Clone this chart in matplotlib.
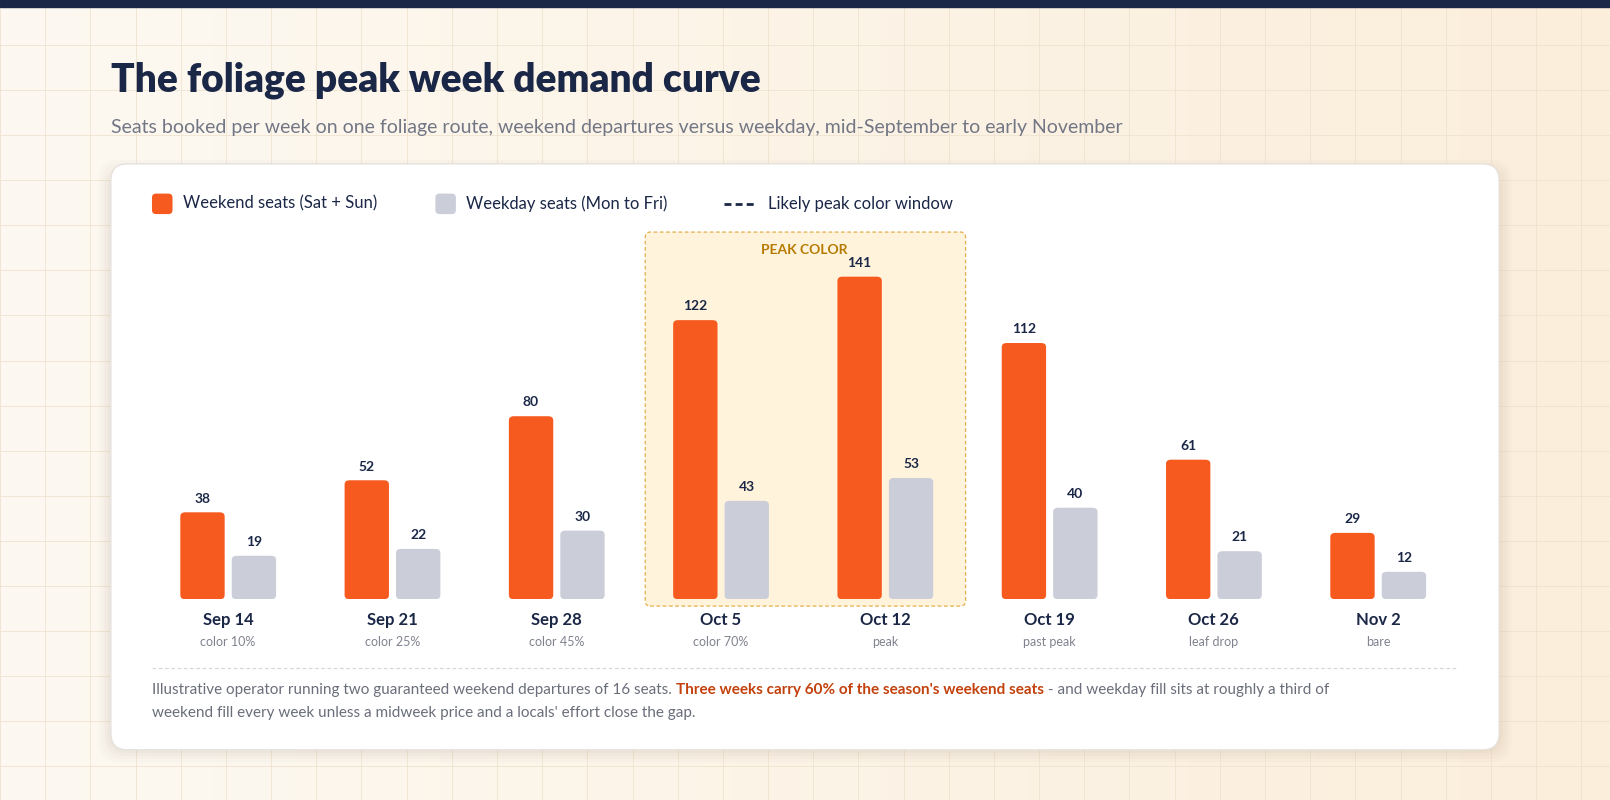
import matplotlib.pyplot as plt
import matplotlib.patches as mpatches
import numpy as np

weeks = ['Sep 14', 'Sep 21', 'Sep 28', 'Oct 5', 'Oct 12', 'Oct 19', 'Oct 26', 'Nov 2']
stages = ['color 10%', 'color 25%', 'color 45%', 'color 70%', 'peak', 'past peak', 'leaf drop', 'bare']
weekend = [38, 52, 80, 122, 141, 112, 61, 29]
weekday = [19, 22, 30, 43, 53, 40, 21, 12]

W, H = 1568, 781
ORANGE = '#f75a1e'
GRAY = '#cbced9'
NAVY = '#1b2747'
plt.rcParams['font.family'] = ['Lato', 'DejaVu Sans']

fig = plt.figure(figsize=(16.1, 8.0), dpi=100)

def fx(px):
    return px / W

def fy(py):
    return 1 - py / H

# background with faint grid
bg = fig.add_axes([0, 0, 1, 1])
bg.set_xlim(0, W)
bg.set_ylim(H, 0)
bg.axis('off')
grad = np.linspace(0, 1, 256).reshape(1, -1)
bg.imshow(grad, extent=[0, W, H, 0], aspect='auto', cmap=plt.matplotlib.colors.LinearSegmentedColormap.from_list('c', ['#fdf9f2', '#fbeedb']), zorder=0)
for gx in np.arange(0, W, 44):
    bg.axvline(gx, color='#efe3cf', lw=0.6, zorder=1)
for gy in np.arange(0, H, 44):
    bg.axhline(gy, color='#efe3cf', lw=0.6, zorder=1)
bg.add_patch(mpatches.Rectangle((0, 0), W, 7, color=NAVY, zorder=2))

# card with soft shadow
for i, a in enumerate([0.025, 0.025, 0.03, 0.035]):
    s = 12 - i * 3
    bg.add_patch(mpatches.FancyBboxPatch((108 - s, 168 - s), 1352 + 2 * s, 564 + 2 * s,
                 boxstyle='round,pad=0,rounding_size=20', fc='#7a6a50', ec='none', alpha=a, zorder=3))
bg.add_patch(mpatches.FancyBboxPatch((108, 160), 1352, 572, boxstyle='round,pad=0,rounding_size=16',
             fc='white', ec='#e6e2dc', lw=1, zorder=4))

fig.text(fx(108), fy(78), 'The foliage peak week demand curve', fontsize=28, fontweight='heavy',
         color=NAVY, va='center')
fig.text(fx(108), fy(124), 'Seats booked per week on one foliage route, weekend departures versus weekday, mid-September to early November',
         fontsize=14, color='#737785', va='center')

# legend
bg.add_patch(mpatches.FancyBboxPatch((148, 189), 20, 20, boxstyle='round,pad=0,rounding_size=4', fc=ORANGE, ec='none', zorder=5))
fig.text(fx(178), fy(199), 'Weekend seats (Sat + Sun)', fontsize=12, color=NAVY, va='center')
bg.add_patch(mpatches.FancyBboxPatch((424, 189), 20, 20, boxstyle='round,pad=0,rounding_size=4', fc=GRAY, ec='none', zorder=5))
fig.text(fx(454), fy(199), 'Weekday seats (Mon to Fri)', fontsize=12, color=NAVY, va='center')
bg.plot([705, 737], [199, 199], color=NAVY, lw=2, ls=(0, (2.5, 1.5)), zorder=5)
fig.text(fx(748), fy(199), 'Likely peak color window', fontsize=12, color=NAVY, va='center')

# chart
ax = fig.add_axes([fx(142), fy(585), fx(1422) - fx(142), (585 - 250) / H])
ax.set_xlim(-0.5, 7.5)
ax.set_ylim(0, 150)
ax.axis('off')
ax.patch.set_alpha(0)
x = np.arange(len(weeks))

# peak window
pk = mpatches.FancyBboxPatch((2.54, -3), 1.95, 163.5, boxstyle='round,pad=0,rounding_size=0.03',
                             fc='#fff3dc', ec='#e3b04b', lw=0.9, ls=(0, (3, 2)), zorder=1, clip_on=False,
                             mutation_aspect=80)
ax.add_patch(pk)
ax.text(3.51, 152.5, 'PEAK COLOR', ha='center', va='center', fontsize=10, fontweight='bold',
        color='#b77a00', zorder=5)

bw = 0.27
for xi, a, b in zip(x, weekend, weekday):
    for xc, v, c in [(xi - 0.155, a, ORANGE), (xi + 0.158, b, GRAY)]:
        ax.add_patch(mpatches.FancyBboxPatch((xc - bw / 2, 0), bw, v, boxstyle='round,pad=0,rounding_size=0.03',
                                             mutation_aspect=60, fc=c, ec='none', zorder=3))
        ax.text(xc, v + 6, str(v), ha='center', va='center', fontsize=10, fontweight='bold', color=NAVY, zorder=4)
    ax.text(xi, -9, weeks[xi], ha='center', va='center', fontsize=12, fontweight='bold', color=NAVY)
    ax.text(xi, -18.5, stages[xi], ha='center', va='center', fontsize=9, color='#80838f')

bg.plot([148, 1420], [652, 652], color='#d6d8de', lw=0.9, ls=(0, (3, 2)), zorder=5)

# footer with highlighted middle
fig.canvas.draw()
r = fig.canvas.get_renderer()
parts = [('Illustrative operator running two guaranteed weekend departures of 16 seats. ', '#6a6e7a', 'normal'),
         ("Three weeks carry 60% of the season's weekend seats", '#c2410c', 'bold'),
         (' - and weekday fill sits at roughly a third of', '#6a6e7a', 'normal')]
px = fx(148)
for s, c, w in parts:
    t = fig.text(px, fy(674), s, fontsize=11, color=c, fontweight=w, va='center')
    bb = t.get_window_extent(r)
    px += bb.width / fig.bbox.width
fig.text(fx(148), fy(696), "weekend fill every week unless a midweek price and a locals' effort close the gap.",
         fontsize=11, color='#6a6e7a', va='center')

fig.savefig('out.png', dpi=100)
